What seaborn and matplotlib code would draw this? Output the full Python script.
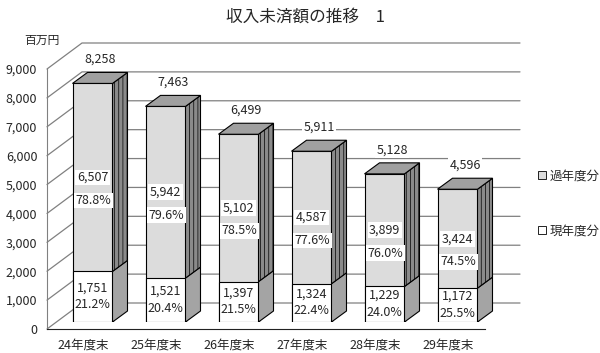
import matplotlib
matplotlib.use('Agg')
import matplotlib.pyplot as plt
import seaborn as sns
from matplotlib.patches import Polygon, Patch

# 収入未済額（百万円）
years = ['24年度末', '25年度末', '26年度末', '27年度末', '28年度末', '29年度末']
past = [6507, 5942, 5102, 4587, 3899, 3424]      # 過年度分
current = [1751, 1521, 1397, 1324, 1229, 1172]   # 現年度分
past_pct = ['78.8%', '79.6%', '78.5%', '77.6%', '76.0%', '74.5%']
cur_pct = ['21.2%', '20.4%', '21.5%', '22.4%', '24.0%', '25.5%']
totals = [p + c for p, c in zip(past, current)]
yticks = list(range(0, 9001, 1000))

sns.set_style('white')
plt.rcParams['font.family'] = ['Noto Sans CJK JP', 'DejaVu Sans']
plt.rcParams['hatch.linewidth'] = 0.5

W, H = 600, 353
fig = plt.figure(figsize=(6, 3.53), dpi=100)

# 手前の面（軸）と棒の面（少し奥）
x0, y0, w, h = 47, 24, 438, 260
ax = fig.add_axes([x0 / W, y0 / H, w / W, h / H])
axb = fig.add_axes([(x0 + 9) / W, (y0 + 7) / H, w / W, h / H])

ymax = 9000
ux = 6 / w          # data units per pixel
uy = ymax / h
wx, wy = 35 * ux, 26 * uy   # 奥の壁までの奥行き
bx, by = 15 * ux, 11 * uy   # 棒の奥行き

grid_c = '#808080'
for v in yticks:
    ax.plot([-0.5, -0.5 + wx, 5.5 + wx], [v, v + wy, v + wy],
            color=grid_c, lw=0.9, clip_on=False)

ax.set_xlim(-0.5, 5.5)
ax.set_ylim(0, ymax)
for s in ['top', 'right']:
    ax.spines[s].set_visible(False)
ax.spines['left'].set_color(grid_c)
ax.spines['bottom'].set_color('#222222')
ax.set_yticks(yticks)
ax.set_yticklabels([f'{v:,}' for v in yticks])
ax.set_xticks(range(len(years)))
ax.set_xticklabels(years)
ax.tick_params(axis='y', length=0, pad=7, labelsize=9)
ax.tick_params(axis='x', length=0, pad=7, labelsize=9)

bw = 40 / 73
sns.barplot(x=years, y=totals, ax=axb, color='#dcdcdc', width=bw,
            edgecolor='black', linewidth=0.8, saturation=1)
sns.barplot(x=years, y=current, ax=axb, color='white', width=bw,
            edgecolor='black', linewidth=0.8, saturation=1)
axb.set_xlim(-0.5, 5.5)
axb.set_ylim(0, ymax)
axb.axis('off')

bars = list(axb.patches)
n = len(years)
for bt, bc in zip(bars[:n], bars[n:]):
    xl = bt.get_x()
    xr = xl + bt.get_width()
    t = bt.get_height()
    c = bc.get_height()
    axb.add_patch(Polygon([(xr, 0), (xr + bx, by), (xr + bx, c + by), (xr, c)],
                          fc='#a4a4a4', ec='black', lw=0.8))
    axb.add_patch(Polygon([(xr, c), (xr + bx, c + by), (xr + bx, t + by), (xr, t)],
                          fc='#8a8a8a', ec='black', lw=0.8, hatch='||||'))
    axb.add_patch(Polygon([(xl, t), (xl + bx, t + by), (xr + bx, t + by), (xr, t)],
                          fc='#a0a0a0', ec='black', lw=0.8))

box = dict(facecolor='white', edgecolor='none', pad=1)
for i in range(n):
    axb.annotate(f'{totals[i]:,}', (i + bx / 2, totals[i] + by), xytext=(0, 13),
                 textcoords='offset pixels', ha='center', va='center',
                 fontsize=9, bbox=box)
    mid_p = current[i] + past[i] / 2
    axb.annotate(f'{past[i]:,}', (i, mid_p), xytext=(0, 0),
                 textcoords='offset pixels', ha='center', va='center',
                 fontsize=9, bbox=box)
    axb.annotate(past_pct[i], (i, mid_p), xytext=(1, -23),
                 textcoords='offset pixels', ha='center', va='center',
                 fontsize=9, bbox=box)
    mid_c = current[i] / 2
    axb.annotate(f'{current[i]:,}', (i, mid_c), xytext=(0, 9),
                 textcoords='offset pixels', ha='center', va='center', fontsize=9)
    axb.annotate(cur_pct[i], (i, mid_c), xytext=(0, -8),
                 textcoords='offset pixels', ha='center', va='center', fontsize=9)

handles = [Patch(fc='#dcdcdc', ec='black', lw=0.6, label='過年度分'),
           Patch(fc='white', ec='black', lw=0.6, label='現年度分')]
fig.legend(handles=handles, loc='upper left', bbox_to_anchor=(532 / W, 1 - 163 / H),
           frameon=False, handlelength=0.6, handleheight=0.6, labelspacing=3.4,
           handletextpad=0.3, fontsize=9, borderpad=0)

fig.text(305 / W, 1 - 17 / H, '収入未済額の推移　1', ha='center', va='center', fontsize=12)
fig.text(42 / W, 1 - 40 / H, '百万円', ha='center', va='center', fontsize=8.5)

fig.savefig('out.png', dpi=100)
